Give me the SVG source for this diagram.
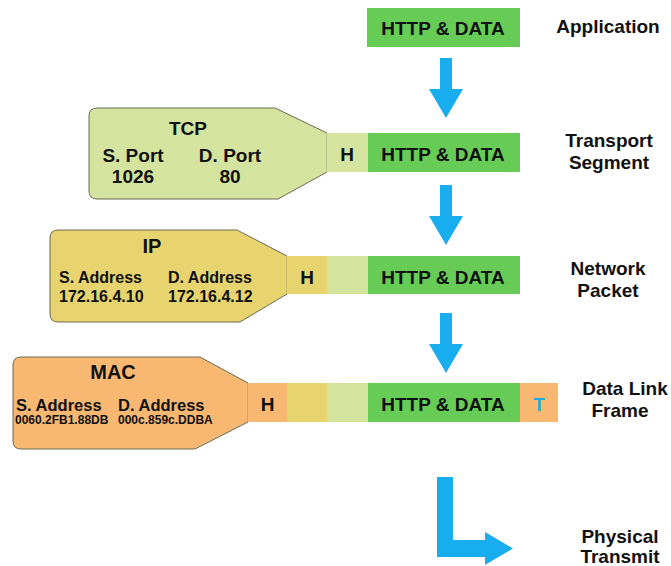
<svg xmlns="http://www.w3.org/2000/svg" width="671" height="566" viewBox="0 0 671 566">
  <style>
    text { font-family: "Liberation Sans", Arial, sans-serif; font-weight: bold; fill: #111; }
    .data { fill: #66CC55; }
    .seg { fill: #D4E49E; }
    .pkt { fill: #E7D46F; }
    .frm { fill: #F9B872; }
    .callout { stroke: #6a6a55; stroke-width: 1; }
    .big { font-size: 19px; text-anchor: middle; }
    .lbl { font-size: 19px; text-anchor: middle; }
    .mid { font-size: 16px; }
    .small { font-size: 12px; }
    .arrow { fill: #17ADEE; }
  </style>
  <defs>
    <!-- downward block arrow, origin at top centre of the shaft -->
    <path id="down" d="M-6,0 H6 V31 H17 L0,60 L-17,31 H-6 Z"/>
  </defs>

  <!-- Application layer -->
  <g id="application">
    <rect class="data" x="367" y="8" width="153" height="39"/>
    <text class="big" x="443" y="35">HTTP &amp; DATA</text>
    <text class="lbl" x="608" y="33">Application</text>
  </g>

  <!-- Transport layer: TCP segment -->
  <g id="transport">
    <path class="seg callout" d="M97,108 H275 L327,133 V172 L278,199 H97 Q89,199 89,191 V116 Q89,108 97,108 Z"/>
    <rect class="seg" x="326.5" y="133" width="42" height="39"/>
    <rect class="data" x="368" y="133" width="152" height="39"/>
    <text class="big" x="188" y="135">TCP</text>
    <text class="big" x="133" y="162">S. Port</text>
    <text class="big" x="230" y="162">D. Port</text>
    <text class="big" x="133" y="183">1026</text>
    <text class="big" x="230" y="183">80</text>
    <text class="big" x="347" y="161">H</text>
    <text class="big" x="443" y="161">HTTP &amp; DATA</text>
    <text class="lbl" x="609" y="147">Transport</text>
    <text class="lbl" x="609" y="169">Segment</text>
  </g>

  <!-- Network layer: IP packet -->
  <g id="network">
    <path class="pkt callout" d="M58,230 H237 L287,256 V294 L240,322 H58 Q50,322 50,314 V238 Q50,230 58,230 Z"/>
    <rect class="pkt" x="286.5" y="256" width="41" height="38"/>
    <rect class="seg" x="327" y="256" width="41" height="38"/>
    <rect class="data" x="368" y="256" width="152" height="38"/>
    <text class="big" x="152" y="253" style="font-size:20px">IP</text>
    <text class="mid" x="59" y="283">S. Address</text>
    <text class="mid" x="168" y="283">D. Address</text>
    <text class="mid" x="59" y="302">172.16.4.10</text>
    <text class="mid" x="168" y="302">172.16.4.12</text>
    <text class="big" x="307" y="284">H</text>
    <text class="big" x="443" y="284">HTTP &amp; DATA</text>
    <text class="lbl" x="608" y="275">Network</text>
    <text class="lbl" x="608" y="297">Packet</text>
  </g>

  <!-- Data link layer: MAC frame -->
  <g id="datalink">
    <path class="frm callout" d="M21,357 H200 L248,383 V422 L195,449 H21 Q13,449 13,441 V365 Q13,357 21,357 Z"/>
    <rect class="frm" x="247.5" y="383" width="40" height="39"/>
    <rect class="pkt" x="287" y="383" width="40" height="39"/>
    <rect class="seg" x="327" y="383" width="41" height="39"/>
    <rect class="data" x="368" y="383" width="152" height="39"/>
    <rect class="frm" x="520" y="383" width="38" height="39"/>
    <text class="big" x="113" y="379" style="font-size:20px">MAC</text>
    <text class="mid" x="16" y="411" style="font-size:16.5px">S. Address</text>
    <text class="mid" x="118" y="411" style="font-size:16.5px">D. Address</text>
    <text class="small" x="15" y="424">0060.2FB1.88DB</text>
    <text class="small" x="118" y="424">000c.859c.DDBA</text>
    <text class="big" x="267.5" y="411">H</text>
    <text class="big" x="443" y="411">HTTP &amp; DATA</text>
    <text class="big" x="539" y="411" style="fill:#1EA9E8">T</text>
    <text class="lbl" x="625" y="395">Data Link</text>
    <text class="lbl" x="620" y="417">Frame</text>
  </g>

  <!-- Physical layer -->
  <g id="physical">
    <text class="lbl" x="620" y="543">Physical</text>
    <text class="lbl" x="620" y="563">Transmit</text>
  </g>

  <!-- arrows between layers -->
  <g id="connectors" class="arrow">
    <use href="#down" x="446" y="58"/>
    <use href="#down" x="446" y="185"/>
    <use href="#down" x="446" y="313"/>
    <path d="M437,477 H453 V540 H485 V532 L513,548.5 L485,565 V557 H437 Z"/>
  </g>
</svg>
